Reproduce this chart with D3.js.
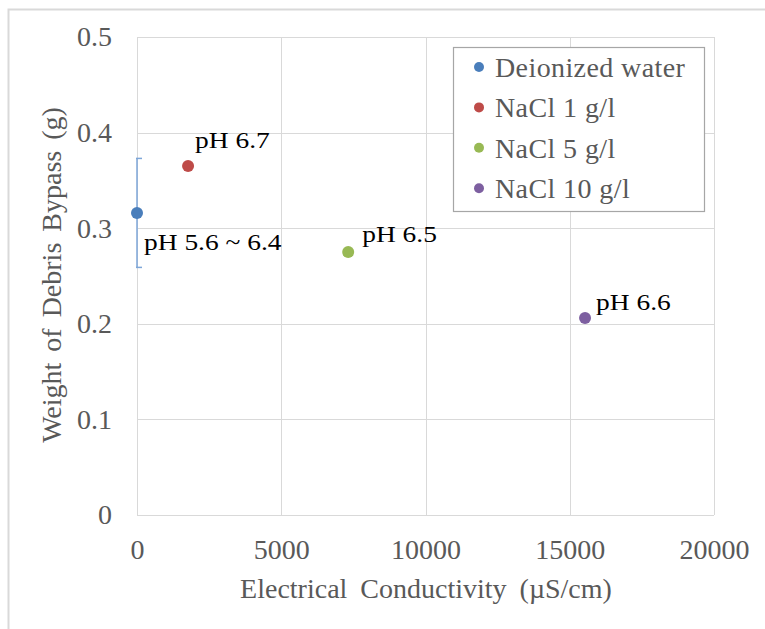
<!DOCTYPE html>
<html>
<head>
<meta charset="utf-8">
<script src="https://cdn.jsdelivr.net/npm/d3@7"></script>
<style>
  body { margin: 0; background: #fff; }
  text { font-family: "Liberation Serif", "Times New Roman", serif; }
</style>
</head>
<body>
<script>
const series = ["Deionized water", "NaCl 1 g/l", "NaCl 5 g/l", "NaCl 10 g/l"];
const conductivity = [0, 1770, 7320, 15530];
const debrisWeight = [0.316, 0.365, 0.275, 0.206];
const errorMinus = [0.057, 0, 0, 0];
const errorPlus = [0.057, 0, 0, 0];
const phLabels = ["pH 5.6 ~ 6.4", "pH 6.7", "pH 6.5", "pH 6.6"];
const colors = ["#4a7ebb", "#be4b48", "#98b954", "#7d5fa0"];
const xTicks = [0, 5000, 10000, 15000, 20000];
const yTicks = [0, 0.1, 0.2, 0.3, 0.4, 0.5];

const width = 765, height = 629;
const margin = { left: 137, top: 37, right: 51, bottom: 114 };

const svg = d3.select("body").append("svg")
  .attr("width", width)
  .attr("height", height);

// chart border (runs off the right and bottom edges)
svg.append("rect")
  .attr("x", 8.5).attr("y", 9.5)
  .attr("width", width + 10).attr("height", height + 10)
  .attr("fill", "none")
  .attr("stroke", "#d9d9d9")
  .attr("stroke-width", 2);

const x = d3.scaleLinear().domain([0, 20000]).range([margin.left, width - margin.right]);
const y = d3.scaleLinear().domain([0, 0.5]).range([height - margin.bottom, margin.top]);

// gridlines
svg.append("g").selectAll("line")
  .data(yTicks)
  .enter().append("line")
  .attr("x1", x(0)).attr("x2", x(20000))
  .attr("y1", d => Math.round(y(d)) + 0.5)
  .attr("y2", d => Math.round(y(d)) + 0.5)
  .attr("stroke", "#d9d9d9");

svg.append("g").selectAll("line")
  .data(xTicks)
  .enter().append("line")
  .attr("x1", d => Math.round(x(d)) + 0.5)
  .attr("x2", d => Math.round(x(d)) + 0.5)
  .attr("y1", y(0)).attr("y2", y(0.5))
  .attr("stroke", "#d9d9d9");

// axes (tick labels only)
const xAxis = svg.append("g")
  .attr("transform", `translate(0,${y(0)})`)
  .call(d3.axisBottom(x).tickValues(xTicks).tickSize(0).tickPadding(24).tickFormat(d3.format("d")));
xAxis.select(".domain").remove();
xAxis.selectAll("text")
  .attr("font-size", 28)
  .attr("fill", "#595959");

const yAxis = svg.append("g")
  .attr("transform", `translate(${x(0)},0)`)
  .call(d3.axisLeft(y).tickValues(yTicks).tickSize(0).tickPadding(25).tickFormat(d => d === 0 ? "0" : d3.format(".1f")(d)));
yAxis.select(".domain").remove();
yAxis.selectAll("text")
  .attr("font-size", 28)
  .attr("fill", "#595959");

// axis titles
svg.append("text")
  .attr("x", 426)
  .attr("y", 598)
  .attr("text-anchor", "middle")
  .attr("font-size", 28)
  .attr("word-spacing", 6)
  .attr("fill", "#595959")
  .text("Electrical Conductivity (\u00b5S/cm)");

svg.append("text")
  .attr("transform", `translate(61,275) rotate(-90)`)
  .attr("text-anchor", "middle")
  .attr("font-size", 28)
  .attr("word-spacing", 4)
  .attr("fill", "#595959")
  .text("Weight of Debris Bypass (g)");

const points = series.map((name, i) => ({
  name, x: conductivity[i], y: debrisWeight[i],
  lo: debrisWeight[i] - errorMinus[i], hi: debrisWeight[i] + errorPlus[i],
  label: phLabels[i], color: colors[i]
}));

// error bars
const err = svg.append("g").selectAll("g")
  .data(points.filter(d => d.hi > d.lo))
  .enter().append("g")
  .attr("stroke", "#7ea6d8")
  .attr("stroke-width", 1.5);
err.append("line")
  .attr("x1", d => x(d.x)).attr("x2", d => x(d.x))
  .attr("y1", d => y(d.lo)).attr("y2", d => y(d.hi));
err.append("line")
  .attr("x1", d => x(d.x) - 1).attr("x2", d => x(d.x) + 5)
  .attr("y1", d => y(d.lo)).attr("y2", d => y(d.lo));
err.append("line")
  .attr("x1", d => x(d.x) - 1).attr("x2", d => x(d.x) + 5)
  .attr("y1", d => y(d.hi)).attr("y2", d => y(d.hi));

// points
svg.append("g").selectAll("circle")
  .data(points)
  .enter().append("circle")
  .attr("cx", d => x(d.x))
  .attr("cy", d => y(d.y))
  .attr("r", 6)
  .attr("fill", d => d.color);

// pH labels (drawn a bit wide, like the original)
const labelOffset = [[7, 37], [7, -18], [14, -10], [11, -8]];
svg.append("g").selectAll("text")
  .data(points)
  .enter().append("text")
  .attr("transform", (d, i) => `translate(${x(d.x) + labelOffset[i][0]},${y(d.y) + labelOffset[i][1]}) scale(1.22,1)`)
  .attr("font-size", 22.5)
  .attr("fill", "#000")
  .text(d => d.label);

// legend
const legend = svg.append("g");
legend.append("rect")
  .attr("x", 453.5).attr("y", 47.5)
  .attr("width", 251).attr("height", 164)
  .attr("fill", "#fff")
  .attr("stroke", "#a6a6a6")
  .attr("stroke-width", 1.2);
const item = legend.selectAll("g.item")
  .data(points)
  .enter().append("g")
  .attr("class", "item")
  .attr("transform", (d, i) => `translate(479,${67 + i * 40.4})`);
item.append("circle")
  .attr("r", 5)
  .attr("fill", d => d.color);
item.append("text")
  .attr("x", 16)
  .attr("y", 10)
  .attr("font-size", 28)
  .attr("letter-spacing", 0.4)
  .attr("fill", "#595959")
  .text(d => d.name);
</script>
</body>
</html>
